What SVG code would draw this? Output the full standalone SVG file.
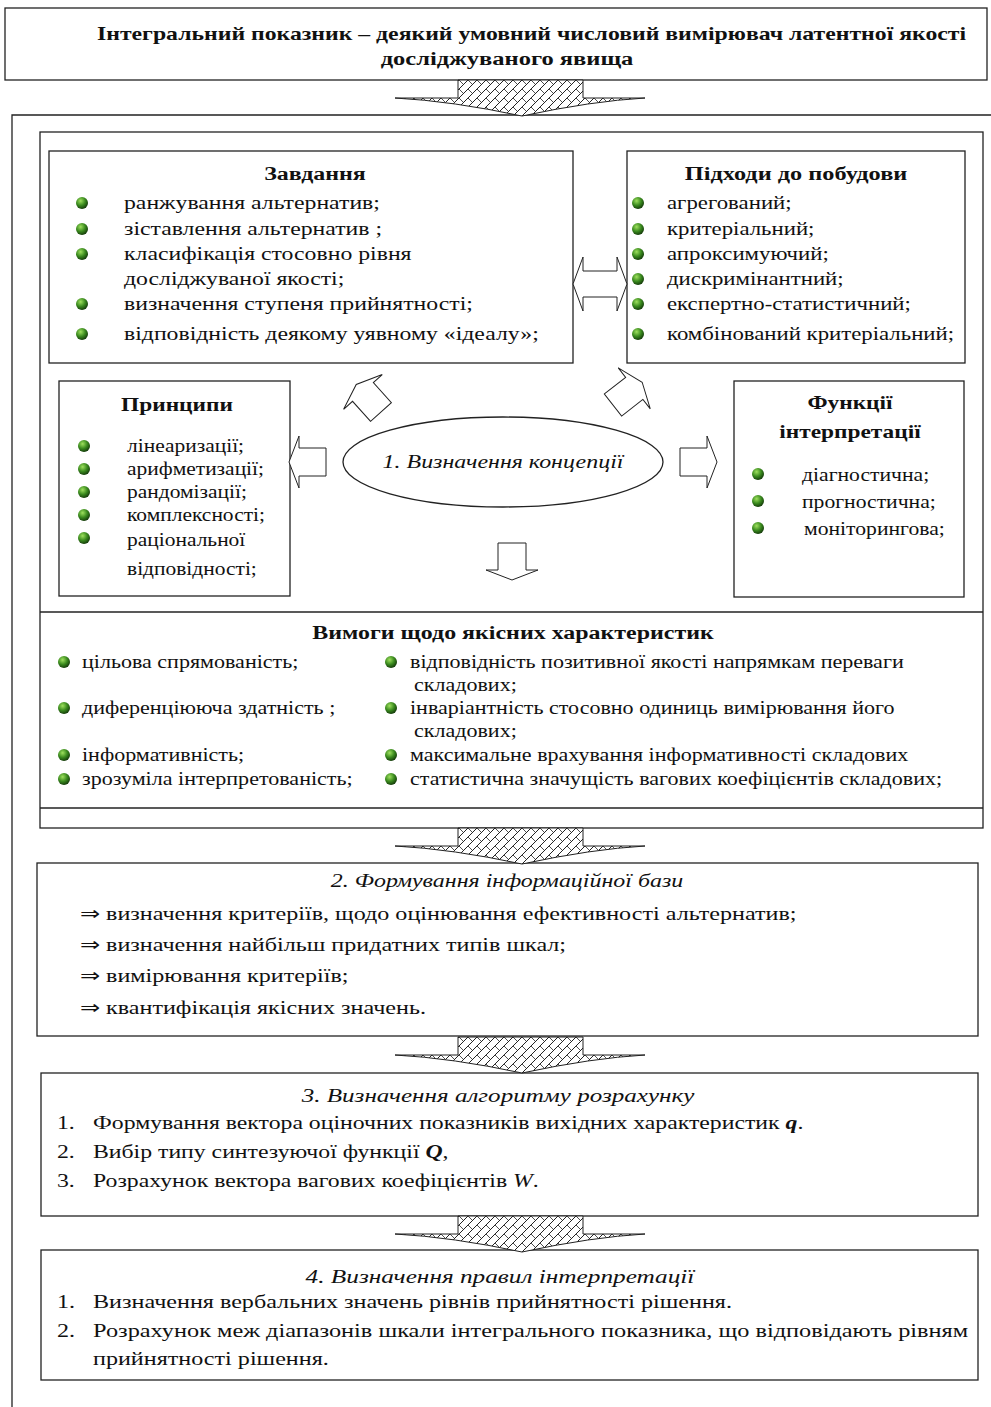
<svg xmlns="http://www.w3.org/2000/svg" width="991" height="1407" viewBox="0 0 991 1407">
<style>
.box{fill:#fff;stroke:#222;stroke-width:1.3}
.frame{fill:none;stroke:#222;stroke-width:1.3}
.t{font-family:"Liberation Serif","Times New Roman",serif;font-size:19px;fill:#111}
.b{font-weight:bold}
.i{font-style:italic}
.c{text-anchor:middle}
.arr{fill:#fff;stroke:#222;stroke-width:1}
.hatch{fill:url(#hp);stroke:#222;stroke-width:1}
</style>
<defs>
<radialGradient id="bg" cx="38%" cy="32%" r="70%">
<stop offset="0" stop-color="#9ee05e"/>
<stop offset="0.55" stop-color="#3a8a1e"/>
<stop offset="1" stop-color="#143a0a"/>
</radialGradient>
<circle id="bul" cx="0" cy="0" r="6" fill="url(#bg)"/>
<pattern id="hp" width="9" height="9" patternUnits="userSpaceOnUse">
<rect width="9" height="9" fill="#fff"/>
<path d="M0,9 L9,0 M-1,1 L1,-1 M8,10 L10,8" stroke="#222" stroke-width="1"/>
<path d="M0,0 L4.5,4.5" stroke="#222" stroke-width="0.8"/>
</pattern>
<path id="ba" d="M0,-14 L27,-14 L27,-26 L37,0 L27,26 L27,14 L0,14 Z"/>
<path id="ha" d="M-64,0 L61,0 L61,18 L123,18 Q70,21 0,36 Q-70,21 -127,18 L-64,18 Z"/>
</defs>

<g id="title">
<rect class="box" x="5" y="8" width="982" height="72"/>
<text class="t b" transform="translate(97,40) scale(1.25,1)">Інтегральний показник – деякий умовний числовий вимірювач латентної якості</text>
<text class="t b c" transform="translate(507,65) scale(1.29,1)">досліджуваного явища</text>
</g>

<g id="outer-frame">
<path class="frame" d="M12,1410 L12,115 L996,115"/>
</g>

<g id="stage1">
<rect class="box" x="40" y="132" width="943" height="696"/>
<line class="frame" x1="40" y1="612" x2="983" y2="612"/>
<line class="frame" x1="40" y1="808" x2="983" y2="808"/>
</g>

<g id="zavdannia">
<rect class="box" x="49" y="151" width="524" height="212"/>
<text class="t b c" transform="translate(315,180) scale(1.26,1)">Завдання</text>
<use href="#bul" x="82" y="203"/>
<use href="#bul" x="82" y="229"/>
<use href="#bul" x="82" y="254"/>
<use href="#bul" x="82" y="304"/>
<use href="#bul" x="82" y="334"/>
<text class="t" transform="translate(124,209) scale(1.25,1)">ранжування альтернатив;</text>
<text class="t" transform="translate(124,235) scale(1.25,1)">зіставлення альтернатив ;</text>
<text class="t" transform="translate(124,260) scale(1.25,1)">класифікація стосовно рівня</text>
<text class="t" transform="translate(124,285) scale(1.25,1)">досліджуваної якості;</text>
<text class="t" transform="translate(124,310) scale(1.25,1)">визначення ступеня прийнятності;</text>
<text class="t" transform="translate(124,340) scale(1.25,1)">відповідність деякому уявному «ідеалу»;</text>
</g>

<g id="pidkhody">
<rect class="box" x="627" y="151" width="338" height="212"/>
<text class="t b c" transform="translate(796,180) scale(1.28,1)">Підходи до побудови</text>
<use href="#bul" x="638" y="203"/>
<use href="#bul" x="638" y="229"/>
<use href="#bul" x="638" y="254"/>
<use href="#bul" x="638" y="279"/>
<use href="#bul" x="638" y="304"/>
<use href="#bul" x="638" y="334"/>
<text class="t" transform="translate(667,209) scale(1.2,1)">агрегований;</text>
<text class="t" transform="translate(667,235) scale(1.2,1)">критеріальний;</text>
<text class="t" transform="translate(667,260) scale(1.2,1)">апроксимуючий;</text>
<text class="t" transform="translate(667,285) scale(1.2,1)">дискримінантний;</text>
<text class="t" transform="translate(667,310) scale(1.2,1)">експертно-статистичний;</text>
<text class="t" transform="translate(667,340) scale(1.2,1)">комбінований критеріальний;</text>
</g>

<g id="pryntsypy">
<rect class="box" x="59" y="381" width="231" height="215"/>
<text class="t b c" transform="translate(177,411) scale(1.23,1)">Принципи</text>
<use href="#bul" x="84" y="446"/>
<use href="#bul" x="84" y="469"/>
<use href="#bul" x="84" y="492"/>
<use href="#bul" x="84" y="515"/>
<use href="#bul" x="84" y="538"/>
<text class="t" transform="translate(127,452) scale(1.13,1)">лінеаризації;</text>
<text class="t" transform="translate(127,475) scale(1.13,1)">арифметизації;</text>
<text class="t" transform="translate(127,498) scale(1.13,1)">рандомізації;</text>
<text class="t" transform="translate(127,521) scale(1.13,1)">комплексності;</text>
<text class="t" transform="translate(127,546) scale(1.13,1)">раціональної</text>
<text class="t" transform="translate(127,575) scale(1.13,1)">відповідності;</text>
</g>

<g id="funktsii">
<rect class="box" x="734" y="381" width="230" height="216"/>
<text class="t b c" transform="translate(850,409) scale(1.23,1)">Функції</text>
<text class="t b c" transform="translate(850,438) scale(1.23,1)">інтерпретації</text>
<use href="#bul" x="758" y="474"/>
<use href="#bul" x="758" y="501"/>
<use href="#bul" x="758" y="528"/>
<text class="t" transform="translate(802,481) scale(1.14,1)">діагностична;</text>
<text class="t" transform="translate(802,508) scale(1.14,1)">прогностична;</text>
<text class="t" transform="translate(804,535) scale(1.14,1)">моніторингова;</text>
</g>

<g id="kontseptsiia">
<ellipse class="box" cx="503" cy="462" rx="160" ry="45"/>
<text class="t i c" transform="translate(503,468) scale(1.26,1)">1. Визначення концепції</text>
</g>

<g id="vymohy">
<text class="t b c" transform="translate(513,639) scale(1.26,1)">Вимоги щодо якісних характеристик</text>
<use href="#bul" x="64" y="662"/>
<use href="#bul" x="64" y="708"/>
<use href="#bul" x="64" y="755"/>
<use href="#bul" x="64" y="779"/>
<text class="t" transform="translate(82,668) scale(1.16,1)">цільова спрямованість;</text>
<text class="t" transform="translate(82,714) scale(1.16,1)">диференціююча здатність ;</text>
<text class="t" transform="translate(82,761) scale(1.16,1)">інформативність;</text>
<text class="t" transform="translate(82,785) scale(1.16,1)">зрозуміла інтерпретованість;</text>
<use href="#bul" x="391" y="662"/>
<use href="#bul" x="391" y="708"/>
<use href="#bul" x="391" y="755"/>
<use href="#bul" x="391" y="779"/>
<text class="t" transform="translate(410,668) scale(1.16,1)">відповідність позитивної якості напрямкам переваги</text>
<text class="t" transform="translate(414,691) scale(1.16,1)">складових;</text>
<text class="t" transform="translate(410,714) scale(1.16,1)">інваріантність стосовно одиниць вимірювання його</text>
<text class="t" transform="translate(414,737) scale(1.16,1)">складових;</text>
<text class="t" transform="translate(410,761) scale(1.16,1)">максимальне врахування інформативності складових</text>
<text class="t" transform="translate(410,785) scale(1.16,1)">статистична значущість вагових коефіцієнтів складових;</text>
</g>

<g id="stage2">
<rect class="box" x="37" y="863" width="941" height="173"/>
<text class="t i c" transform="translate(507,887) scale(1.26,1)">2. Формування інформаційної бази</text>
<text class="t" transform="translate(80,920) scale(1.27,1)">⇒ визначення критеріїв, щодо оцінювання ефективності альтернатив;</text>
<text class="t" transform="translate(80,951) scale(1.27,1)">⇒ визначення найбільш придатних типів шкал;</text>
<text class="t" transform="translate(80,982) scale(1.27,1)">⇒ вимірювання критеріїв;</text>
<text class="t" transform="translate(80,1014) scale(1.27,1)">⇒ квантифікація якісних значень.</text>
</g>

<g id="stage3">
<rect class="box" x="41" y="1073" width="937" height="143"/>
<text class="t i c" transform="translate(498,1102) scale(1.32,1)">3. Визначення алгоритму розрахунку</text>
<text class="t" transform="translate(57,1129) scale(1.25,1)">1.</text>
<text class="t" transform="translate(93,1129) scale(1.25,1)">Формування вектора оціночних показників вихідних характеристик <tspan class="b i">q</tspan>.</text>
<text class="t" transform="translate(57,1158) scale(1.25,1)">2.</text>
<text class="t" transform="translate(93,1158) scale(1.25,1)">Вибір типу синтезуючої функції <tspan class="b i">Q</tspan>,</text>
<text class="t" transform="translate(57,1187) scale(1.25,1)">3.</text>
<text class="t" transform="translate(93,1187) scale(1.25,1)">Розрахунок вектора вагових коефіцієнтів <tspan class="i">W</tspan>.</text>
</g>

<g id="stage4">
<rect class="box" x="41" y="1250" width="937" height="130"/>
<text class="t i c" transform="translate(500,1283) scale(1.33,1)">4. Визначення правил інтерпретації</text>
<text class="t" transform="translate(57,1308) scale(1.27,1)">1.</text>
<text class="t" transform="translate(93,1308) scale(1.27,1)">Визначення вербальних значень рівнів прийнятності рішення.</text>
<text class="t" transform="translate(57,1337) scale(1.27,1)">2.</text>
<text class="t" transform="translate(93,1337) scale(1.28,1)">Розрахунок меж діапазонів шкали інтегрального показника, що відповідають рівням</text>
<text class="t" transform="translate(93,1365) scale(1.27,1)">прийнятності рішення.</text>
</g>

<g id="connectors">
<use href="#ha" class="hatch" x="522" y="80"/>
<use href="#ha" class="hatch" x="522" y="828"/>
<use href="#ha" class="hatch" x="522" y="1037"/>
<use href="#ha" class="hatch" x="522" y="1216"/>
<path class="arr" d="M573,284 L583,257 L583,271 L617,271 L617,257 L627,284 L617,311 L617,297 L583,297 L583,311 Z"/>
<use href="#ba" class="arr" transform="translate(326,462) rotate(180)"/>
<use href="#ba" class="arr" transform="translate(680,462)"/>
<use href="#ba" class="arr" transform="translate(512,543) rotate(90)"/>
<use href="#ba" class="arr" transform="translate(381,412) rotate(-132)"/>
<use href="#ba" class="arr" transform="translate(613,405) rotate(-38)"/>
</g>
</svg>
